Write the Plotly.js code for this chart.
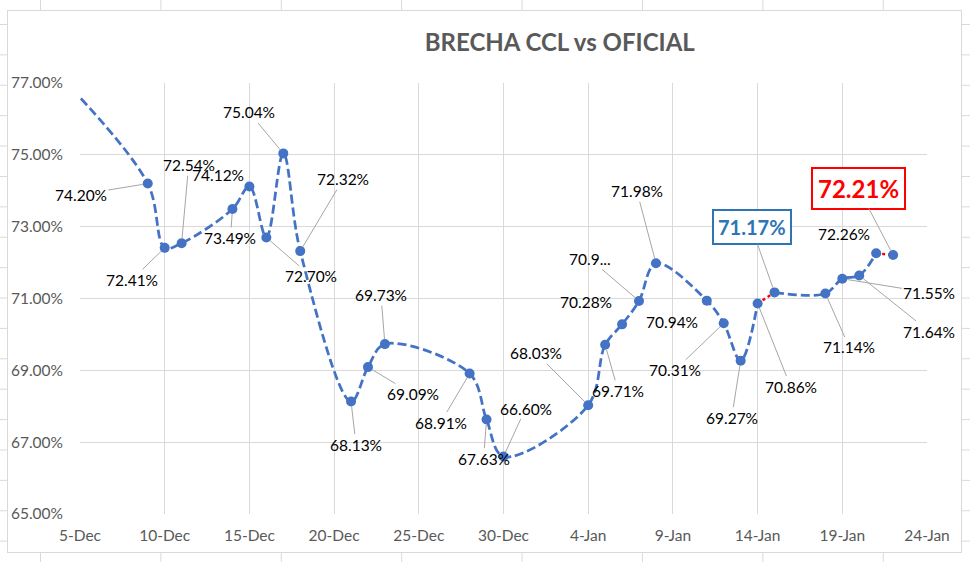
<!DOCTYPE html>
<html>
<head>
<meta charset="utf-8">
<script src="https://cdn.plot.ly/plotly-3.0.1.min.js"></script>
<style>
    html, body { margin: 0; padding: 0; }
    body {
        width: 970px; height: 562px; overflow: hidden;
        background-color: #ffffff;
        /* lignes de la feuille Excel derrière le graphique */
        background-image: linear-gradient(to right, #d9d9d9 1px, transparent 1px),
                          linear-gradient(to bottom, #d9d9d9 1px, transparent 1px);
        background-size: 120.4px 30.4px;
        background-position: 40px 24px;
    }
    #graph_brecha {
        position: absolute; left: 7px; top: 10px;
        width: 953px; height: 541px;
        border: 1px solid #d9d9d9;
        background: #ffffff;
    }
</style>
</head>
<body>
<div id="graph_brecha"></div>
<script>
    // Dates des cotations (la première est hors de l'axe, la courbe arrive depuis la gauche)
    var fechas = [
        '2020-12-04', '2020-12-09', '2020-12-10', '2020-12-11', '2020-12-14',
        '2020-12-15', '2020-12-16', '2020-12-17', '2020-12-18', '2020-12-21',
        '2020-12-22', '2020-12-23', '2020-12-28', '2020-12-29', '2020-12-30',
        '2021-01-04', '2021-01-05', '2021-01-06', '2021-01-07', '2021-01-08',
        '2021-01-11', '2021-01-12', '2021-01-13', '2021-01-14', '2021-01-15',
        '2021-01-18', '2021-01-19', '2021-01-20', '2021-01-21', '2021-01-22'
    ];

    // Brecha CCL vs oficial, en %
    var brecha = [
        77.10, 74.20, 72.41, 72.54, 73.49,
        74.12, 72.70, 75.04, 72.32, 68.13,
        69.09, 69.73, 68.91, 67.63, 66.60,
        68.03, 69.71, 70.28, 70.93, 71.98,
        70.94, 70.31, 69.27, 70.86, 71.17,
        71.14, 71.55, 71.64, 72.26, 72.21
    ];

    // Etiquettes tronquées telles qu'affichées
    var etiquetasEspeciales = { 18: '70.9...' };

    // Tronçons tracés en pointillé rouge (indices de début et de fin)
    var tramosRojos = [[23, 24], [28, 29]];

    // Etiquettes mises en valeur dans un cadre
    var destacadas = { 24: '#2E75B6', 29: '#FF0000' };

    // Décalage des étiquettes en pixels [dx, dy, ligne de rappel]
    var posEtiquetas = [
        null,
        [-67, 11, true], [-33, 32, true], [7, -78, true], [-2, 29, true],
        [-31, -11, false], [45, 39, true], [-34, -41, true], [43, -72, true],
        [5, 43, true], [45, 27, true], [-4, -49, true], [-29, 49, true],
        [-3, 39, true], [22, -48, true], [-52, -52, true], [13, 46, true],
        [-36, -22, false], [-49, -42, true], [-19, -72, true], [-35, 21, false],
        [-49, 47, true], [-9, 57, true], [33, 83, true], [-23, -65, true],
        [24, 54, true], [87, 14, true], [70, 56, true], [-32, -19, false],
        [-35, -67, true]
    ];

    var bleu = '#4472C4';
    var police = 'Lato, "Open Sans", sans-serif';

    // Ligne principale, coupée aux tronçons rouges
    var debutsRouges = tramosRojos.map(t => t[0]);
    var xLigne = [], yLigne = [];
    fechas.forEach((f, i) => {
        xLigne.push(f);
        yLigne.push(brecha[i]);
        if (debutsRouges.indexOf(i) >= 0) {
            xLigne.push(null);
            yLigne.push(null);
        }
    });

    var traces = [{
        x: xLigne, y: yLigne,
        type: 'scatter', mode: 'lines',
        connectgaps: false,
        line: { color: bleu, width: 2.75, dash: '9px,4px', shape: 'spline', smoothing: 1 },
        hoverinfo: 'skip'
    }];

    tramosRojos.forEach(t => {
        traces.push({
            x: fechas.slice(t[0], t[1] + 1),
            y: brecha.slice(t[0], t[1] + 1),
            type: 'scatter', mode: 'lines',
            line: { color: '#FF0000', width: 2.5, dash: 'dot' },
            hoverinfo: 'skip'
        });
    });

    traces.push({
        x: fechas, y: brecha,
        type: 'scatter', mode: 'markers',
        marker: { color: bleu, size: 10 },
        hoverinfo: 'skip'
    });

    // Etiquettes de données avec lignes de rappel
    var annotations = [];
    brecha.forEach((v, i) => {
        var p = posEtiquetas[i];
        if (!p) return;
        var texte = etiquetasEspeciales[i] || v.toFixed(2) + '%';
        var a = {
            x: fechas[i], y: brecha[i], xref: 'x', yref: 'y',
            text: texte,
            showarrow: true, ax: p[0], ay: p[1],
            arrowhead: 0, arrowwidth: 1, standoff: 5,
            arrowcolor: p[2] ? '#a6a6a6' : 'rgba(0,0,0,0)',
            font: { family: police, size: 15.5, color: '#000000' }
        };
        if (destacadas[i]) {
            var c = destacadas[i];
            a.text = '<b>' + texte + '</b>';
            a.font = { family: police, size: i === 29 ? 24 : 20, color: c };
            a.bordercolor = c;
            a.borderwidth = 2;
            a.borderpad = i === 29 ? 5 : 4;
            a.bgcolor = '#ffffff';
        }
        annotations.push(a);
    });

    var layout = {
        width: 953, height: 541,
        margin: { l: 72, r: 34, t: 72, b: 38 },
        paper_bgcolor: '#ffffff',
        plot_bgcolor: '#ffffff',
        showlegend: false,
        title: {
            text: '<b>BRECHA CCL vs OFICIAL</b>',
            font: { family: police, size: 24, color: '#595959' },
            x: 0.579, xref: 'container', xanchor: 'center',
            y: 0.941, yref: 'container', yanchor: 'middle'
        },
        xaxis: {
            type: 'date',
            range: ['2020-12-05', '2021-01-24'],
            tick0: '2020-12-05',
            dtick: 5 * 86400000,
            tickformat: '%-d-%b',
            showgrid: true, gridcolor: '#d9d9d9', gridwidth: 1,
            zeroline: false, showline: false, ticks: '',
            ticklabelstandoff: 10,
            tickfont: { family: police, size: 15.5, color: '#595959' }
        },
        yaxis: {
            range: [65, 77],
            tick0: 65,
            dtick: 2,
            tickformat: '.2f', ticksuffix: '%',
            showgrid: true, gridcolor: '#d9d9d9', gridwidth: 1,
            zeroline: false, showline: false, ticks: '',
            ticklabelstandoff: 16,
            tickfont: { family: police, size: 15.5, color: '#595959' }
        },
        annotations: annotations
    };

    Plotly.newPlot('graph_brecha', traces, layout, { staticPlot: true, displayModeBar: false });
</script>
</body>
</html>
